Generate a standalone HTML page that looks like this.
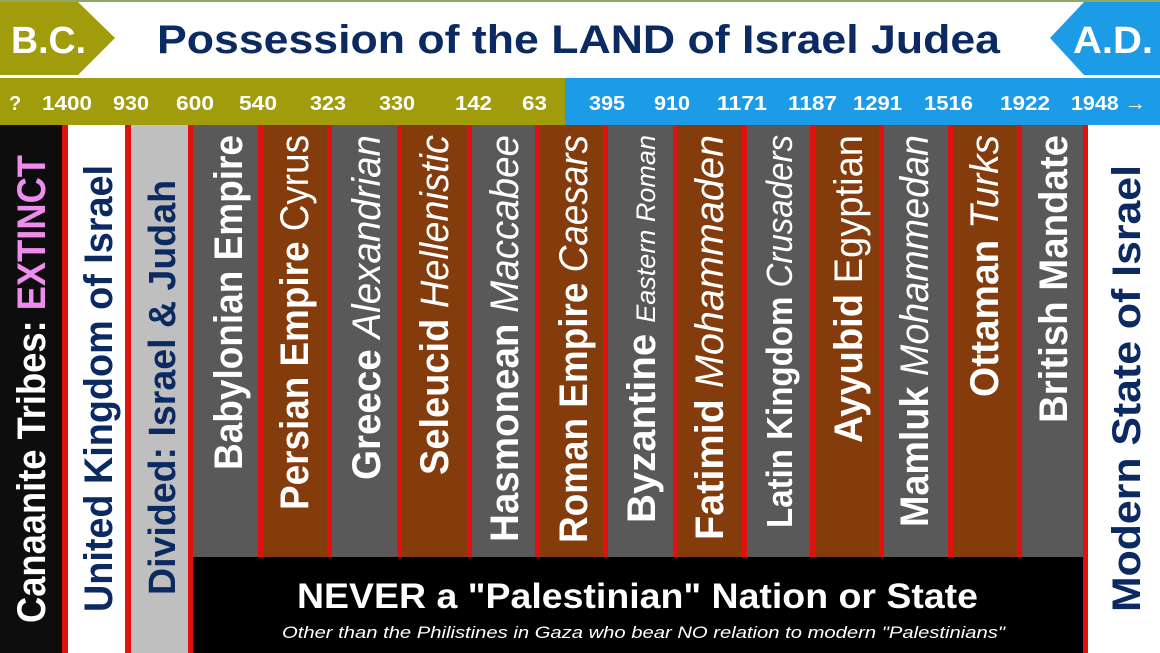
<!DOCTYPE html>
<html><head><meta charset="utf-8"><style>
html,body{margin:0;padding:0;background:#fff;}
svg{display:block;}
text{font-family:"Liberation Sans",sans-serif;}
</style></head><body>
<svg width="1160" height="653" viewBox="0 0 1160 653" xmlns="http://www.w3.org/2000/svg">
<rect x="0" y="0" width="1160" height="653" fill="#fff"/>
<rect x="0" y="0" width="1160" height="2" fill="#8fa868"/>
<!-- header arrows -->
<polygon points="0,2 78,2 115,38 78,75 0,75" fill="#a09c0c"/>
<text x="11" y="53" font-size="38" font-weight="bold" fill="#fff" textLength="75" lengthAdjust="spacingAndGlyphs">B.C.</text>
<polygon points="1160,2 1084,2 1050,38 1084,75 1160,75" fill="#1c9be6"/>
<text x="1073" y="53" font-size="38" font-weight="bold" fill="#fff" textLength="80" lengthAdjust="spacingAndGlyphs">A.D.</text>
<text x="157" y="53" font-size="40" font-weight="bold" fill="#0c2a62" textLength="843" lengthAdjust="spacingAndGlyphs">Possession of the LAND of Israel Judea</text>
<!-- year bar -->
<rect x="0" y="78" width="565" height="47" fill="#a09c0c"/>
<rect x="565" y="78" width="595" height="47" fill="#1c9be6"/>
<g font-size="20" font-weight="bold" fill="#fff">
<text x="9" y="110">?</text>
<text x="42" y="110" textLength="50" lengthAdjust="spacingAndGlyphs">1400</text>
<text x="113" y="110" textLength="36" lengthAdjust="spacingAndGlyphs">930</text>
<text x="176" y="110" textLength="38" lengthAdjust="spacingAndGlyphs">600</text>
<text x="239" y="110" textLength="38" lengthAdjust="spacingAndGlyphs">540</text>
<text x="310" y="110" textLength="36" lengthAdjust="spacingAndGlyphs">323</text>
<text x="379" y="110" textLength="36" lengthAdjust="spacingAndGlyphs">330</text>
<text x="455" y="110" textLength="37" lengthAdjust="spacingAndGlyphs">142</text>
<text x="522" y="110" textLength="25" lengthAdjust="spacingAndGlyphs">63</text>
<text x="589" y="110" textLength="36" lengthAdjust="spacingAndGlyphs">395</text>
<text x="654" y="110" textLength="36" lengthAdjust="spacingAndGlyphs">910</text>
<text x="717" y="110" textLength="50" lengthAdjust="spacingAndGlyphs">1171</text>
<text x="788" y="110" textLength="49" lengthAdjust="spacingAndGlyphs">1187</text>
<text x="853" y="110" textLength="49" lengthAdjust="spacingAndGlyphs">1291</text>
<text x="924" y="110" textLength="49" lengthAdjust="spacingAndGlyphs">1516</text>
<text x="1000" y="110" textLength="50" lengthAdjust="spacingAndGlyphs">1922</text>
<text x="1071" y="110" textLength="75" lengthAdjust="spacingAndGlyphs">1948 →</text>
</g>
<!-- left columns -->
<rect x="0" y="125" width="62" height="528" fill="#0d0d0d"/>
<rect x="62" y="125" width="6" height="528" fill="#e31010"/>
<rect x="68" y="125" width="57" height="528" fill="#fff"/>
<rect x="125" y="125" width="6" height="528" fill="#e31010"/>
<rect x="131" y="125" width="57" height="528" fill="#bfbfbf"/>
<rect x="188" y="125" width="5" height="528" fill="#e31010"/>
<!-- empire columns -->
<g>
<rect x="193" y="125" width="65" height="432" fill="#595959"/>
<rect x="258" y="125" width="5" height="432" fill="#e31010"/>
<rect x="263" y="125" width="64" height="432" fill="#843c0c"/>
<rect x="327" y="125" width="5" height="432" fill="#e31010"/>
<rect x="332" y="125" width="65" height="432" fill="#595959"/>
<rect x="397" y="125" width="5" height="432" fill="#e31010"/>
<rect x="402" y="125" width="65" height="432" fill="#843c0c"/>
<rect x="467" y="125" width="5" height="432" fill="#e31010"/>
<rect x="472" y="125" width="63" height="432" fill="#595959"/>
<rect x="535" y="125" width="5" height="432" fill="#e31010"/>
<rect x="540" y="125" width="63" height="432" fill="#843c0c"/>
<rect x="603" y="125" width="5" height="432" fill="#e31010"/>
<rect x="608" y="125" width="65" height="432" fill="#595959"/>
<rect x="673" y="125" width="5" height="432" fill="#e31010"/>
<rect x="678" y="125" width="64" height="432" fill="#843c0c"/>
<rect x="742" y="125" width="5" height="432" fill="#e31010"/>
<rect x="747" y="125" width="63" height="432" fill="#595959"/>
<rect x="810" y="125" width="5" height="432" fill="#e31010"/>
<rect x="815" y="125" width="64" height="432" fill="#843c0c"/>
<rect x="879" y="125" width="5" height="432" fill="#e31010"/>
<rect x="884" y="125" width="64" height="432" fill="#595959"/>
<rect x="948" y="125" width="5" height="432" fill="#e31010"/>
<rect x="953" y="125" width="64" height="432" fill="#843c0c"/>
<rect x="1017" y="125" width="5" height="432" fill="#e31010"/>
<rect x="1022" y="125" width="61" height="432" fill="#595959"/>
</g>
<rect x="1083" y="125" width="5" height="528" fill="#e31010"/>
<rect x="193" y="557" width="890" height="96" fill="#000"/>
<!-- rotated labels -->
<g font-weight="bold">
<text transform="translate(45,623) rotate(-90)" font-size="40" fill="#fff" textLength="468" lengthAdjust="spacingAndGlyphs">Canaanite Tribes: <tspan fill="#f08cf0">EXTINCT</tspan></text>
<text transform="translate(112,612) rotate(-90)" font-size="40" fill="#0c2a62" textLength="447" lengthAdjust="spacingAndGlyphs">United Kingdom of Israel</text>
<text transform="translate(175,595) rotate(-90)" font-size="38" fill="#0c2a62" textLength="415" lengthAdjust="spacingAndGlyphs">Divided: Israel &amp; Judah</text>
<text transform="translate(1140,612) rotate(-90)" font-size="40" fill="#0c2a62" textLength="447" lengthAdjust="spacingAndGlyphs">Modern State of Israel</text>
</g>
<g fill="#fff" font-size="40">
<text transform="translate(242,470) rotate(-90)" font-weight="bold" textLength="335" lengthAdjust="spacingAndGlyphs">Babylonian Empire</text>
<text transform="translate(308,510) rotate(-90)" textLength="375" lengthAdjust="spacingAndGlyphs"><tspan font-weight="bold">Persian Empire </tspan><tspan>Cyrus</tspan></text>
<text transform="translate(380,480) rotate(-90)" textLength="345" lengthAdjust="spacingAndGlyphs"><tspan font-weight="bold">Greece </tspan><tspan font-style="italic">Alexandrian</tspan></text>
<text transform="translate(448,475) rotate(-90)" textLength="340" lengthAdjust="spacingAndGlyphs"><tspan font-weight="bold">Seleucid </tspan><tspan font-style="italic">Hellenistic</tspan></text>
<text transform="translate(518,542) rotate(-90)" textLength="407" lengthAdjust="spacingAndGlyphs"><tspan font-weight="bold">Hasmonean </tspan><tspan font-style="italic">Maccabee</tspan></text>
<text transform="translate(587,543) rotate(-90)" textLength="408" lengthAdjust="spacingAndGlyphs"><tspan font-weight="bold">Roman Empire </tspan><tspan font-style="italic">Caesars</tspan></text>
<text transform="translate(655,523) rotate(-90)" textLength="388" lengthAdjust="spacingAndGlyphs"><tspan font-weight="bold">Byzantine </tspan><tspan font-style="italic" font-size="27">Eastern Roman</tspan></text>
<text transform="translate(723,540) rotate(-90)" textLength="405" lengthAdjust="spacingAndGlyphs"><tspan font-weight="bold">Fatimid </tspan><tspan font-style="italic">Mohammaden</tspan></text>
<text transform="translate(792,528) rotate(-90)" font-size="36" textLength="393" lengthAdjust="spacingAndGlyphs"><tspan font-weight="bold">Latin Kingdom </tspan><tspan font-style="italic">Crusaders</tspan></text>
<text transform="translate(862,443) rotate(-90)" textLength="308" lengthAdjust="spacingAndGlyphs"><tspan font-weight="bold">Ayyubid </tspan><tspan>Egyptian</tspan></text>
<text transform="translate(928,527) rotate(-90)" textLength="392" lengthAdjust="spacingAndGlyphs"><tspan font-weight="bold">Mamluk </tspan><tspan font-style="italic">Mohammedan</tspan></text>
<text transform="translate(998,397) rotate(-90)" textLength="262" lengthAdjust="spacingAndGlyphs"><tspan font-weight="bold">Ottaman </tspan><tspan font-style="italic">Turks</tspan></text>
<text transform="translate(1067,423) rotate(-90)" font-weight="bold" textLength="288" lengthAdjust="spacingAndGlyphs">British Mandate</text>
</g>
<!-- bottom box text -->
<text x="297" y="608" font-size="35" font-weight="bold" fill="#fff" textLength="681" lengthAdjust="spacingAndGlyphs">NEVER a "Palestinian" Nation or State</text>
<text x="282" y="638" font-size="17" font-style="italic" fill="#fff" textLength="723" lengthAdjust="spacingAndGlyphs">Other than the Philistines in Gaza who bear NO relation to modern "Palestinians"</text>
</svg>
</body></html>
